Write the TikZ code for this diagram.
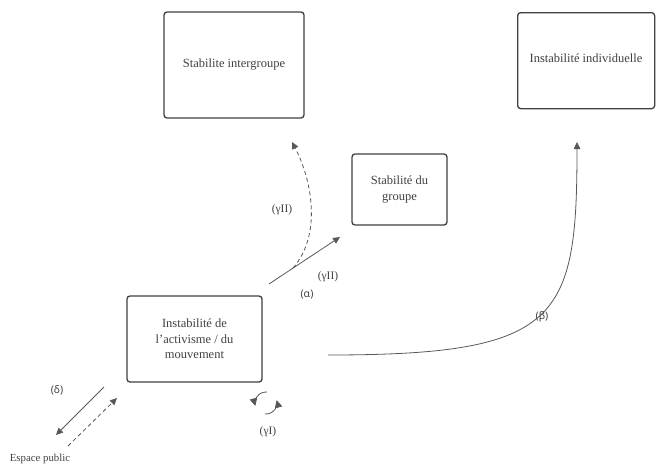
\documentclass[tikz,border=0pt]{standalone}
\usepackage{fontspec}
\setmainfont{Liberation Serif}
\newfontfamily\lblfont{Noto Sans}
\usetikzlibrary{arrows.meta}
\definecolor{boxc}{HTML}{3D4045}
\definecolor{txtc}{HTML}{3F4247}
\definecolor{arrc}{HTML}{55585D}
\tikzset{
  box/.style={draw=boxc, line width=1.3pt, rounded corners=3pt, fill=white, align=center, text=txtc, font=\fontsize{12.5}{15.5}\selectfont, inner sep=0pt},
  conn/.style={draw=arrc, line width=0.8pt, -{Triangle[length=7pt,width=6.5pt]}},
  dconn/.style={conn, dash pattern=on 4pt off 3pt},
  rconn/.style={draw=arrc, line width=0.8pt, -{Triangle[length=7.5pt,width=7.5pt]}},
  glbl/.style={text=txtc, font=\lblfont\fontsize{10.5}{12}\selectfont, inner sep=0pt},
  slbl/.style={text=txtc, font=\fontsize{11.5}{13}\selectfont, inner sep=0pt}
}
\begin{document}
\begin{tikzpicture}[x=1pt,y=-1pt]
\useasboundingbox (0,0) rectangle (656,466);
\node[box, minimum width=140pt, minimum height=106pt] (si) at (234,65) {Stabilite intergroupe};
\node[box, minimum width=137pt, minimum height=96pt, anchor=north west] (ii) at (517,12) {};
\node[text=txtc, font=\fontsize{12.5}{15.5}\selectfont, inner sep=0pt] (iit) at (586,58) {Instabilité individuelle};
\node[box, minimum width=95pt, minimum height=71pt] (sg) at (399.5,189.5) {Stabilité du\\groupe};
\node[box, minimum width=135pt, minimum height=86pt] (ia) at (194.5,339) {Instabilité de\\l{\char"27}activisme / du\\mouvement};
\node[text=txtc, font=\fontsize{10.8}{12}\selectfont, inner sep=0pt] (ep) at (40,459) {Espace public};

% coordinates
\coordinate (a0) at (269,284);
\coordinate (a1) at (340,237);
\coordinate (g0) at (293,268);
\coordinate (g1) at (292,142);
\coordinate (b0) at (328,355);
\coordinate (b1) at (577,142);
\coordinate (d0) at (104,387);
\coordinate (d1) at (56,435);
\coordinate (e0) at (68,446);
\coordinate (e1) at (117,398);
\coordinate (c) at (266,403);

\draw[conn] (a0) -- (a1);
\draw[dconn] (g0) .. controls (322,235) and (312,180) .. (g1);
\draw[conn] (b0) .. controls (560,355) and (577,320) .. (b1);
\draw[conn] (d0) -- (d1);
\draw[dconn] (e0) -- (e1);
% gamma I rotating arrows
\begin{scope}[shift={(c)}, yscale=-1]
\draw[rconn] (95:11pt) arc[start angle=95, end angle=-15, radius=11pt];
\draw[rconn] (-85:11pt) arc[start angle=-85, end angle=-195, radius=11pt];
\end{scope}

\node[slbl] (l1) at (282,210) {(γII)};
\node[slbl] (l2) at (328,277) {(γII)};
\node[glbl] (la) at (307,295) {(α)};
\node[glbl] (lb) at (542,317) {(β)};
\node[glbl] (ld) at (57,390) {(δ)};
\node[slbl] (lg) at (268,432) {(γI)};
\end{tikzpicture}
\end{document}
